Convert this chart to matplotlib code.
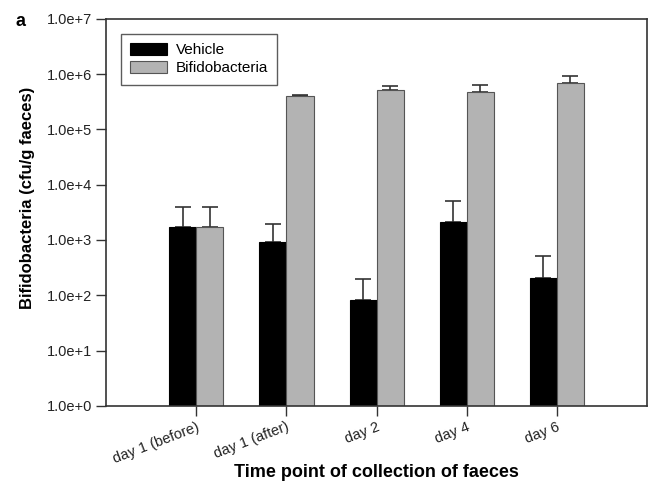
import numpy as np
import matplotlib
matplotlib.use("Agg")
import matplotlib.pyplot as plt

plt.rcParams['font.family'] = ['Liberation Sans', 'DejaVu Sans']

days = ["day 1 (before)", "day 1 (after)", "day 2", "day 4", "day 6"]
vehicle = [1750, 920, 83, 2150, 205]
vehicle_err = [2150, 1000, 115, 2900, 310]
bifido = [1750, 400000, 520000, 480000, 690000]
bifido_err = [2150, 25000, 80000, 150000, 240000]

fig = plt.figure(figsize=(6.55, 4.82), dpi=100)
ax = fig.add_axes([0.162, 0.158, 0.826, 0.803])

x = np.arange(1, len(days) + 1)
w = 0.3
ax.bar(x - w / 2, vehicle, w, color="black", edgecolor="black", linewidth=0.8,
       label="Vehicle", zorder=2)
ax.bar(x + w / 2, bifido, w, color="#b3b3b3", edgecolor="#555555", linewidth=0.8,
       label="Bifidobacteria", zorder=2)
ax.errorbar(x - w / 2, vehicle, yerr=[np.zeros(len(days)), vehicle_err], fmt="none",
            ecolor="#333333", elinewidth=1.2, capsize=6, capthick=1.2, zorder=1)
ax.errorbar(x + w / 2, bifido, yerr=[np.zeros(len(days)), bifido_err], fmt="none",
            ecolor="#333333", elinewidth=1.2, capsize=6, capthick=1.2, zorder=1)

ax.set_yscale("log")
ax.set_ylim(1, 1e7)
ax.set_xlim(0, 6)
ax.set_yticks([10.0 ** k for k in range(8)])
ax.set_yticklabels(["1.0e+%d" % k for k in range(8)], fontsize=10.5, color="#222222")
ax.minorticks_off()
ax.set_xticks(x)
ax.set_xticklabels(days, rotation=21, ha="right", rotation_mode="anchor", fontsize=10.5,
                   color="#222222")
ax.tick_params(axis="both", direction="out", length=7, width=1, color="#333333", pad=3)

for s in ax.spines.values():
    s.set_color("#333333")
    s.set_linewidth(1.2)

ax.set_ylabel("Bifidobacteria (cfu/g faeces)", fontsize=12, fontweight="bold")
ax.yaxis.set_label_coords(-0.132, 0.537)
ax.set_xlabel("Time point of collection of faeces", fontsize=13, fontweight="bold")
ax.xaxis.set_label_coords(0.5, -0.15)

leg = ax.legend(loc="upper left", fontsize=11, frameon=True, fancybox=False,
                handlelength=2.4, handleheight=0.8, borderpad=0.6,
                bbox_to_anchor=(0.013, 0.98), labelspacing=0.25, handletextpad=0.6)
leg.get_frame().set_edgecolor("#333333")
leg.get_frame().set_linewidth(1.0)

fig.text(0.023, 0.947, "a", fontsize=13, fontweight="bold")

fig.savefig("out.png", dpi=100)
